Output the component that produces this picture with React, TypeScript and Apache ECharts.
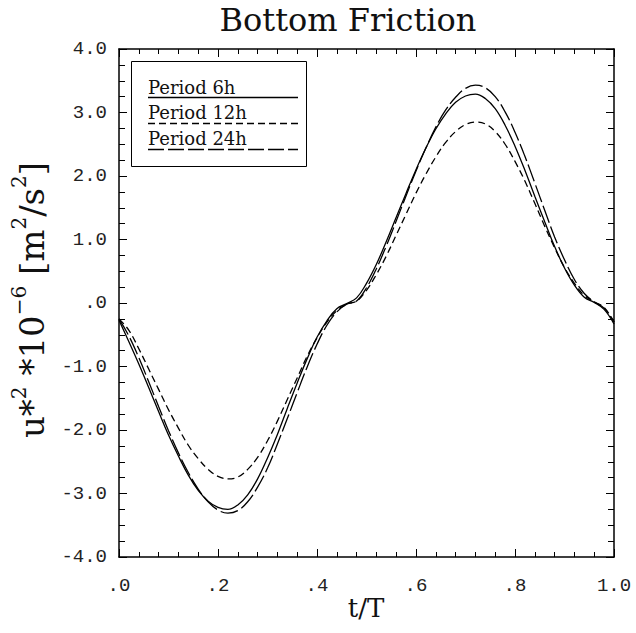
import React, { useEffect, useRef } from "react";
import * as echarts from "echarts";

const T = [
  0.0, 0.02, 0.04, 0.06, 0.08, 0.1, 0.12, 0.14, 0.16, 0.18,
  0.2, 0.22, 0.24, 0.26, 0.28, 0.3, 0.32, 0.34, 0.36, 0.38,
  0.4, 0.42, 0.44, 0.46, 0.48, 0.5, 0.52, 0.54, 0.56, 0.58,
  0.6, 0.62, 0.64, 0.66, 0.68, 0.7, 0.72, 0.74, 0.76, 0.78,
  0.8, 0.82, 0.84, 0.86, 0.88, 0.9, 0.92, 0.94, 0.96, 0.98, 1.0,
];

const P6H = [
  -0.27, -0.61, -0.96, -1.33, -1.71, -2.08, -2.41, -2.71, -2.95, -3.12,
  -3.22, -3.25, -3.18, -3.02, -2.77, -2.44, -2.07, -1.66, -1.26, -0.88,
  -0.54, -0.28, -0.09, -0.01, 0.08, 0.31, 0.61, 0.97, 1.35, 1.73,
  2.10, 2.44, 2.74, 2.98, 3.16, 3.26, 3.29, 3.22, 3.06, 2.80,
  2.47, 2.09, 1.68, 1.28, 0.89, 0.55, 0.28, 0.09, 0.01, -0.10, -0.33,
];

const P12H = [
  -0.25, -0.43, -0.72, -1.04, -1.36, -1.68, -1.97, -2.24, -2.45, -2.62,
  -2.73, -2.77, -2.74, -2.62, -2.43, -2.17, -1.86, -1.52, -1.18, -0.84,
  -0.55, -0.30, -0.12, -0.02, 0.03, 0.20, 0.45, 0.74, 1.07, 1.40,
  1.73, 2.03, 2.30, 2.53, 2.70, 2.81, 2.85, 2.82, 2.70, 2.50,
  2.23, 1.92, 1.57, 1.21, 0.87, 0.56, 0.31, 0.12, 0.02, -0.07, -0.30,
];

const P24H = [
  -0.25, -0.52, -0.86, -1.24, -1.63, -2.01, -2.36, -2.67, -2.93, -3.13,
  -3.26, -3.31, -3.27, -3.13, -2.90, -2.60, -2.22, -1.82, -1.41, -1.01,
  -0.65, -0.35, -0.14, -0.02, 0.03, 0.24, 0.54, 0.90, 1.29, 1.69,
  2.08, 2.44, 2.77, 3.04, 3.24, 3.38, 3.43, 3.39, 3.25, 3.01,
  2.69, 2.31, 1.89, 1.46, 1.04, 0.68, 0.37, 0.15, 0.02, -0.08, -0.30,
];

const LEGEND_NAMES = ["Period 6h", "Period 12h", "Period 24h"];
const TITLE = "Bottom Friction";
const X_NAME = "t/T";

const fmt = (v: number) => {
  const s = v.toFixed(1);
  if (s === "0.0") return ".0";
  if (s.startsWith("0.")) return s.slice(1);
  return s;
};

export default function App() {
  const ref = useRef<HTMLDivElement>(null);
  useEffect(() => {
    if (!ref.current) return;
    const chart = echarts.init(ref.current, null, { renderer: "svg" });
    const labelFont = {
      fontFamily: "Liberation Mono",
      fontSize: 19,
      color: "#222",
    };
    const axisLine = { show: true, onZero: false, lineStyle: { color: "#000", width: 1.5 } };
    const xCommon = {
      type: "value" as const,
      min: 0,
      max: 1,
      interval: 0.2,
      axisLine,
      splitLine: { show: false },
      axisTick: { show: true, inside: false, length: -8, lineStyle: { color: "#000", width: 1 } },
      minorTick: { show: true, splitNumber: 5, length: -5, lineStyle: { color: "#000", width: 1 } },
    };
    const yCommon = {
      type: "value" as const,
      min: -4,
      max: 4,
      interval: 1,
      axisLine,
      splitLine: { show: false },
      axisTick: { show: true, inside: false, length: -8, lineStyle: { color: "#000", width: 1 } },
      minorTick: { show: true, splitNumber: 4, length: -6, lineStyle: { color: "#000", width: 1 } },
    };
    const mk = (arr: number[]) => T.map((t, i) => [t, arr[i]]);
    const lineBase = { type: "line" as const, showSymbol: false, smooth: 0.4, silent: true };
    const legendY = [87, 112, 138];
    const legendLineY = [97.5, 123.5, 149.5];
    const dashes: (number[] | null)[] = [null, [7, 4], [16, 4]];
    const serif = "DejaVu Serif";
    const graphics: any[] = [
      {
        type: "text",
        x: 348,
        y: 20,
        style: {
          text: TITLE,
          fontFamily: serif,
          fontSize: 32,
          fill: "#111",
          textAlign: "center",
          textVerticalAlign: "middle",
        },
      },
      {
        type: "text",
        x: 366,
        y: 608,
        style: {
          text: X_NAME,
          fontFamily: serif,
          fontSize: 26,
          fill: "#111",
          textAlign: "center",
          textVerticalAlign: "middle",
        },
      },
      {
        type: "text",
        x: 29,
        y: 300,
        rotation: Math.PI / 2,
        style: {
          text: "{b|u*}{s|2}{b| *10}{s|\u22126}{b| [m}{s|2}{b|/s}{s|2}{b|]}",
          fontFamily: serif,
          fill: "#111",
          textAlign: "center",
          textVerticalAlign: "middle",
          rich: {
            b: { fontFamily: serif, fontSize: 34, lineHeight: 40, verticalAlign: "bottom", fill: "#111" },
            s: { fontFamily: serif, fontSize: 20, lineHeight: 40, verticalAlign: "top", fill: "#111" },
          },
        },
      },
      {
        type: "rect",
        shape: { x: 131.5, y: 61.5, width: 175, height: 105 },
        style: { fill: "#fff", stroke: "#000", lineWidth: 1 },
        z: 10,
      },
    ];
    LEGEND_NAMES.forEach((name, i) => {
      graphics.push({
        type: "text",
        x: 148,
        y: legendY[i],
        z: 11,
        style: {
          text: name,
          fontFamily: serif,
          fontSize: 18,
          fill: "#111",
          textAlign: "left",
          textVerticalAlign: "middle",
        },
      });
      graphics.push({
        type: "line",
        z: 11,
        shape: { x1: 148, y1: legendLineY[i], x2: 298, y2: legendLineY[i] },
        style: { stroke: "#000", lineWidth: 1.4, lineDash: dashes[i] || undefined },
      });
    });

    chart.setOption({
      animation: false,
      backgroundColor: "#fff",
      grid: { left: 119, right: 22, top: 49, bottom: 76 },
      xAxis: [
        {
          ...xCommon,
          position: "bottom",
          axisLabel: { ...labelFont, margin: 19, formatter: fmt },
        },
        {
          ...xCommon,
          position: "top",
          axisLabel: { show: false },
        },
      ],
      yAxis: [
        {
          ...yCommon,
          position: "left",
          axisLabel: { ...labelFont, margin: 12, formatter: fmt },
        },
        {
          ...yCommon,
          position: "right",
          axisLabel: { show: false },
        },
      ],
      series: [
        { ...lineBase, name: LEGEND_NAMES[0], data: mk(P6H), lineStyle: { color: "#000", width: 1.3, type: "solid" } },
        { ...lineBase, name: LEGEND_NAMES[1], data: mk(P12H), lineStyle: { color: "#000", width: 1.3, type: [7, 4] } },
        { ...lineBase, name: LEGEND_NAMES[2], data: mk(P24H), lineStyle: { color: "#000", width: 1.3, type: [18, 4] } },
      ],
      graphic: graphics,
    });
    return () => chart.dispose();
  }, []);
  return (
    <div
      ref={ref}
      style={{ position: "fixed", left: 0, top: 0, width: 636, height: 633, background: "#fff" }}
    />
  );
}
